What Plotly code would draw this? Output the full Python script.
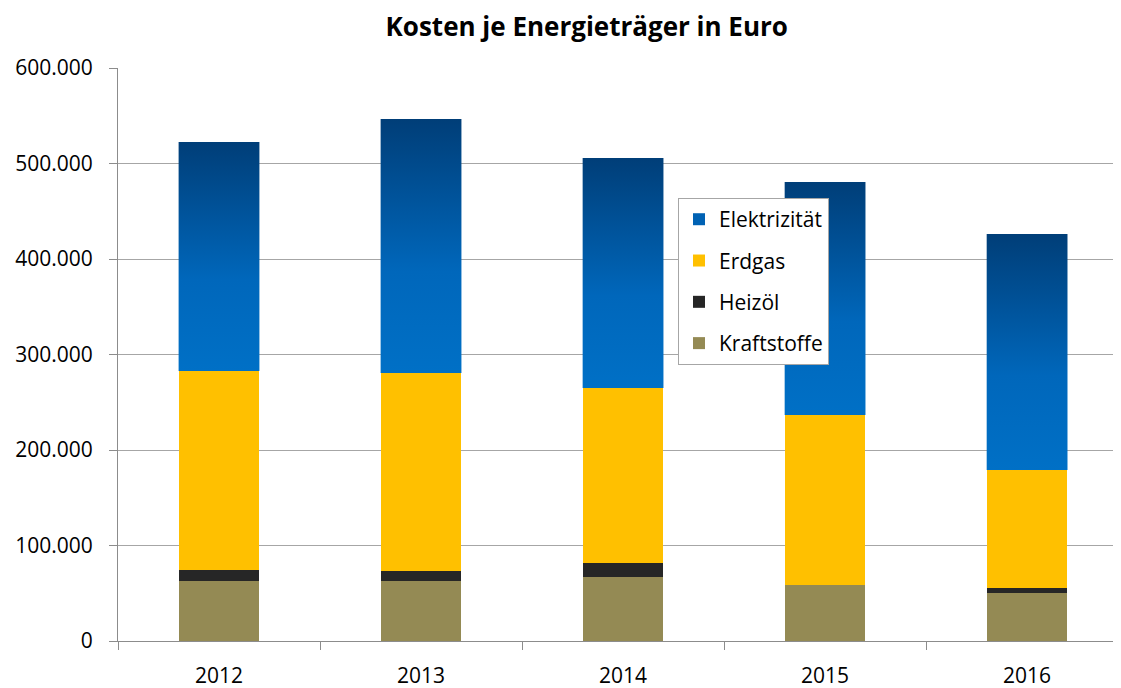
import plotly.graph_objects as go

years = ["2012", "2013", "2014", "2015", "2016"]
kraftstoffe = [62800, 62800, 67000, 58600, 50300]
heizoel = [11500, 10500, 14700, 0, 5200]
erdgas = [208400, 207300, 183300, 178000, 123500]
elektrizitaet = [239800, 266000, 240800, 244000, 247200]

y_ticks = [0, 100000, 200000, 300000, 400000, 500000, 600000]

FONT = "Open Sans, sans-serif"
BAR_W = 0.4
xs = list(range(len(years)))

fig = go.Figure()

fig.add_trace(go.Bar(x=xs, y=kraftstoffe, name="Kraftstoffe", width=BAR_W,
                     marker=dict(color="#948a54", line_width=0),
                     legendrank=4, legendgroup="k"))
fig.add_trace(go.Bar(x=xs, y=heizoel, name="Heizöl", width=BAR_W,
                     marker=dict(color="#262626", line_width=0),
                     legendrank=3, legendgroup="h"))
fig.add_trace(go.Bar(x=xs, y=erdgas, name="Erdgas", width=BAR_W,
                     marker=dict(color="#ffc000", line_width=0),
                     legendrank=2, legendgroup="g"))

# Elektrizität mit vertikalem Farbverlauf (Scatter-Flaeche mit fillgradient)
for i, (k, h, g, e) in enumerate(zip(kraftstoffe, heizoel, erdgas, elektrizitaet)):
    base = k + h + g
    top = base + e
    x0, x1 = i - BAR_W / 2, i + BAR_W / 2
    fig.add_trace(go.Scatter(
        x=[x0, x1, x1, x0, x0],
        y=[base, base, top, top, base],
        mode="lines",
        line=dict(width=0, color="#0065b8"),
        fill="toself",
        fillgradient=dict(
            type="vertical",
            colorscale=[[0, "#0070c6"], [0.4, "#0067bb"], [1, "#003e78"]],
        ),
        showlegend=False,
        hoverinfo="skip",
    ))

# nur Legendeneintrag (quadratisches Symbol)
fig.add_trace(go.Bar(x=[None], y=[None], name="Elektrizität",
                     marker=dict(color="#0062b4", line_width=0),
                     legendrank=1, legendgroup="e"))

fig.update_layout(
    width=1113, height=680,
    paper_bgcolor="white",
    plot_bgcolor="white",
    barmode="stack",
    separators=",.",
    font=dict(family=FONT, size=21, color="#000000"),
    title=dict(text="<b>Kosten je Energieträger in Euro</b>",
               x=0.52, xanchor="center", y=0.972, yanchor="middle",
               font=dict(size=26, family=FONT)),
    margin=dict(l=110, r=3, t=60, b=47),
    legend=dict(
        x=0.56, y=0.773, xanchor="left", yanchor="top",
        bgcolor="white", bordercolor="#a6a6a6", borderwidth=1,
        traceorder="grouped", tracegroupgap=11, itemsizing="constant",
        font=dict(size=21, family=FONT),
    ),
)

fig.update_xaxes(
    range=[-0.5, 4.45],
    tickvals=xs, ticktext=years, ticks="", showgrid=False,
    showline=True, linecolor="#8c8c8c", linewidth=1,
    minor=dict(tickvals=[i - 0.5 for i in range(len(years))],
               ticks="outside", ticklen=8, tickcolor="#8c8c8c"),
    tickfont=dict(size=21), ticklabelstandoff=16,
    automargin=False,
    zeroline=False,
)
fig.update_yaxes(
    range=[0, 600000], tickvals=y_ticks, tickformat=",d",
    showgrid=True, gridcolor="#a6a6a6", gridwidth=1,
    showline=True, linecolor="#8c8c8c", linewidth=1,
    ticks="outside", ticklen=8, tickcolor="#8c8c8c",
    tickfont=dict(size=21), ticklabelstandoff=12,
    automargin=False,
    zeroline=False,
)

fig.write_html("out.html")
